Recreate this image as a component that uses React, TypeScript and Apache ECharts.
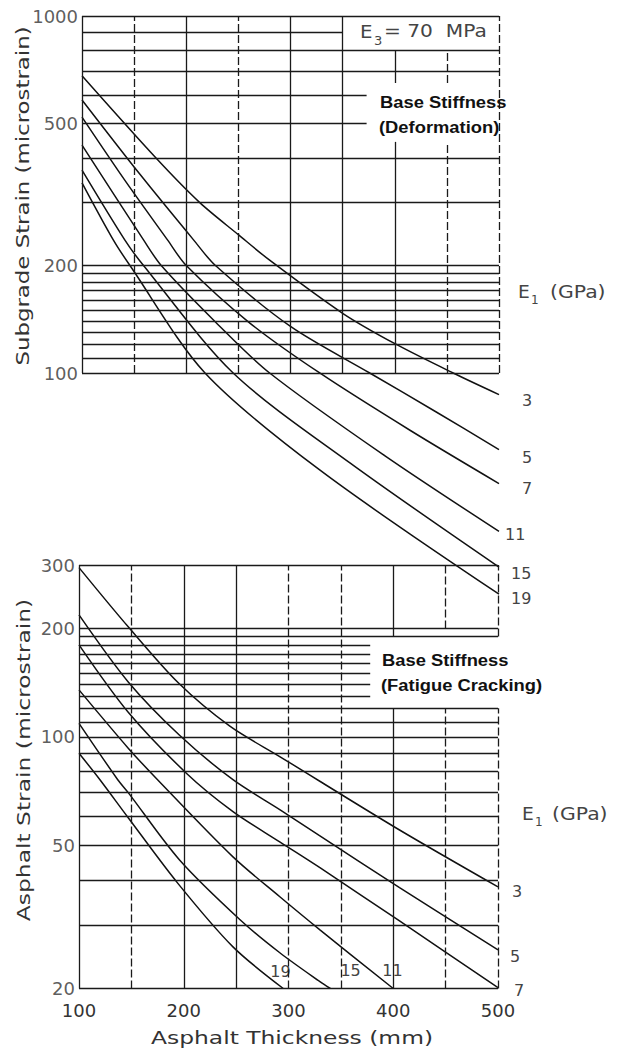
import React, { useEffect, useRef } from 'react';
import * as echarts from 'echarts';

// ---------- data ----------
const E1_LEVELS = ['3', '5', '7', '11', '15', '19'];

// Top: subgrade strain (microstrain) vs asphalt thickness (mm)
const subgrade3 = [[100, 680], [171, 400], [213, 300], [250, 244], [280, 207], [350, 147], [402, 120], [456, 100], [500, 87]];
const subgrade5 = [[100, 582], [156, 359], [207, 236], [228, 200], [300, 135], [376, 100], [439, 78], [500, 61]];
const subgrade7 = [[100, 521], [141, 347], [182, 236], [200, 200], [261, 138], [328, 100], [415, 69], [500, 49]];
const subgrade11 = [[100, 435], [159, 236], [176, 200], [228, 139], [280, 100], [391, 58.5], [500, 36]];
const subgrade15 = [[100, 370], [141, 236], [159, 200], [245, 100], [357, 56], [500, 28.6]];
const subgrade19 = [[100, 341], [130, 236], [146, 200], [218, 100], [328, 53.5], [500, 24]];

// Bottom: asphalt strain (microstrain) vs asphalt thickness (mm)
const asphalt3 = [[100, 295], [147, 202], [195, 141], [244, 107], [292, 88], [402, 56], [500, 38.3]];
const asphalt5 = [[100, 218], [147, 142], [196, 101], [247, 76], [292, 62.7], [330, 53.1], [406, 38.1], [500, 25.6]];
const asphalt7 = [[100, 180], [147, 117], [203, 79], [247, 62], [292, 51], [330, 43.3], [406, 30.8], [500, 20.1]];
const asphalt11 = [[100, 135], [147, 93], [175, 76], [247, 46.4], [292, 35.9], [330, 29.1], [400, 20]];
const asphalt15 = [[100, 109], [137, 76], [147, 70], [196, 45.5], [254, 31], [292, 25.1], [330, 20.9], [340, 20]];
const asphalt19 = [[100, 90], [120, 76], [147, 59.6], [194, 39.3], [247, 26.1], [295, 20]];

// tick labels
const thicknessTicks = [100, 200, 300, 400, 500];
const subgradeTickLabels = [1000, 500, 200, 100];
const asphaltTickLabels = [300, 200, 100, 50, 20];

// chart-paper grid lines
const subgradeGridFull = [1000, 800, 700, 400, 300, 200, 190, 180, 170, 160, 150, 140, 130, 120, 110, 100];
const subgradeGridShort = [600, 500];
const asphaltGridFull = [300, 200, 190, 120, 110, 100, 90, 80, 70, 60, 50, 40, 30, 20];
const asphaltGridShort = [180, 170, 160, 150, 140, 130];

const FONT = 'DejaVu Sans';
const BOLD = 'Liberation Sans';
const INK = '#1a1a1a';

const hseg = (v: number, x1: number, x2: number) => [{ coord: [x1, v] }, { coord: [x2, v] }];
const vseg = (x: number, y1: number, y2: number) => [{ coord: [x, y1] }, { coord: [x, y2] }];

function gridSeries(name: string, axis: number, lines: any[], dashed: boolean) {
  return {
    name,
    type: 'line',
    xAxisIndex: axis,
    yAxisIndex: axis,
    data: [],
    silent: true,
    z: 1,
    markLine: {
      silent: true,
      symbol: ['none', 'none'],
      label: { show: false },
      emphasis: { disabled: true },
      lineStyle: { color: INK, width: 1.3, type: dashed ? [8, 3] : 'solid' },
      data: lines,
    },
  };
}

function curve(name: string, axis: number, data: number[][], offset: number[]) {
  return {
    name,
    type: 'line',
    xAxisIndex: axis,
    yAxisIndex: axis,
    data,
    showSymbol: false,
    smooth: 0.3,
    z: 3,
    silent: true,
    lineStyle: { color: '#111', width: 1.5 },
    endLabel: {
      show: true,
      formatter: '{a}',
      distance: 0,
      offset,
      align: 'left',
      verticalAlign: 'middle',
      color: '#444',
      fontSize: 16,
      fontFamily: FONT,
    },
  };
}

function tickLabelSeries(axis: number, values: number[], xAt: number) {
  return {
    type: 'scatter',
    xAxisIndex: axis,
    yAxisIndex: axis,
    data: values.map((v) => [xAt, v]),
    symbolSize: 2,
    silent: true,
    itemStyle: { color: 'rgba(0,0,0,0)' },
    label: {
      show: true,
      position: 'left',
      distance: 3,
      formatter: (p: any) => String(p.value[1]),
      fontSize: 18,
      fontFamily: FONT,
      color: '#333',
    },
    z: 4,
  };
}

function txt(text: string, x: number, y: number, opts: any = {}) {
  const { rotation = 0, scaleX = 1, fontSize = 18, fontFamily = FONT, fontWeight = 'normal', fill = '#333', align = 'left' } = opts;
  return {
    type: 'text', x, y, rotation, scaleX, z: 10, silent: true,
    style: { text, fontSize, fontFamily, fontWeight, fill, align, verticalAlign: 'middle' },
  };
}

export default function App() {
  const ref = useRef<HTMLDivElement>(null);

  useEffect(() => {
    if (!ref.current) return;
    const chart = echarts.init(ref.current, undefined, { renderer: 'svg' });

    const topSolid = [
      ...subgradeGridFull.map((v) => hseg(v, 100, 500)),
      hseg(900, 100, 350),
      ...subgradeGridShort.map((v) => hseg(v, 100, 373)),
      ...[100, 200, 300, 350].map((x) => vseg(x, 100, 1000)),
      vseg(400, 100, 444),
      vseg(400, 649, 800),
    ];
    const topDashed = [
      ...[150, 250].map((x) => vseg(x, 100, 1000)),
      vseg(450, 100, 444),
      vseg(450, 649, 800),
      vseg(500, 100, 1000),
    ];
    const bottomSolid = [
      ...asphaltGridFull.map((v) => hseg(v, 100, 500)),
      ...asphaltGridShort.map((v) => hseg(v, 100, 378)),
      ...[100, 200, 250].map((x) => vseg(x, 20, 300)),
      vseg(400, 20, 120),
      vseg(400, 190, 300),
    ];
    const bottomDashed = [
      ...[150, 300, 350].map((x) => vseg(x, 20, 300)),
      vseg(450, 20, 120),
      vseg(450, 200, 300),
      vseg(500, 20, 120),
      vseg(500, 190, 300),
    ];

    const topCurves = [subgrade3, subgrade5, subgrade7, subgrade11, subgrade15, subgrade19];
    const topOffsets = [[23, 6], [23, 8], [23, 5], [6, 3], [12, 6], [12, 4]];
    const botCurves = [asphalt3, asphalt5, asphalt7, asphalt11, asphalt15, asphalt19];
    const botOffsets = [[14, 5], [12, 7], [16, 3], [-11, -18], [10, -18], [-13, -17]];

    const hiddenX = (i: number) => ({
      type: 'value', gridIndex: i, min: 100, max: 500, interval: 100, show: false,
      splitLine: { show: false },
    });

    const option: any = {
      animation: false,
      backgroundColor: '#ffffff',
      grid: [
        { left: 82, top: 16, width: 417, height: 357 },
        { left: 82, top: 16, width: 417, height: 606.5 },
        { left: 79, top: 565, width: 419, height: 423.5 },
      ],
      xAxis: [
        hiddenX(0),
        hiddenX(1),
        {
          type: 'value', gridIndex: 2, min: thicknessTicks[0], max: thicknessTicks[thicknessTicks.length - 1],
          interval: 100,
          axisLine: { show: false }, axisTick: { show: false }, splitLine: { show: false },
          axisLabel: { show: true, margin: 13, fontSize: 18, color: '#333', fontFamily: FONT },
        },
      ],
      yAxis: [
        { type: 'log', logBase: 10, gridIndex: 0, min: 100, max: 1000, show: false, splitLine: { show: false } },
        { type: 'log', logBase: 10, gridIndex: 1, min: 20, max: 1000, show: false, splitLine: { show: false } },
        { type: 'log', logBase: 10, gridIndex: 2, min: 20, max: 300, show: false, splitLine: { show: false } },
      ],
      series: [
        gridSeries('topSolid', 0, topSolid, false),
        gridSeries('topDashed', 0, topDashed, true),
        gridSeries('bottomSolid', 2, bottomSolid, false),
        gridSeries('bottomDashed', 2, bottomDashed, true),
        tickLabelSeries(0, subgradeTickLabels, 100),
        tickLabelSeries(2, asphaltTickLabels, 100),
        ...topCurves.map((d, i) => curve(E1_LEVELS[i], 1, d, topOffsets[i])),
        ...botCurves.map((d, i) => curve(E1_LEVELS[i], 2, d, botOffsets[i])),
      ],
      graphic: {
        elements: [
          // axis titles
          txt('Subgrade Strain (microstrain)', 23, 196, { rotation: Math.PI / 2, scaleX: 1.27, align: 'center' }),
          txt('Asphalt Strain (microstrain)', 24, 760, { rotation: Math.PI / 2, scaleX: 1.3, align: 'center' }),
          txt('Asphalt Thickness (mm)', 292, 1038, { scaleX: 1.3, align: 'center' }),
          // E3 box text
          txt('E', 360, 31, { fill: '#444', scaleX: 1.1 }),
          txt('3', 374, 40, { fontSize: 13, fill: '#444' }),
          txt('= 70  MPa', 384, 31, { fill: '#444', scaleX: 1.12 }),
          // base stiffness labels
          txt('Base Stiffness', 380, 102, { fontSize: 17, fontFamily: BOLD, fontWeight: 'bold', fill: '#111', scaleX: 1.08 }),
          txt('(Deformation)', 379, 127, { fontSize: 17, fontFamily: BOLD, fontWeight: 'bold', fill: '#111', scaleX: 1.08 }),
          txt('Base Stiffness', 382, 660, { fontSize: 17, fontFamily: BOLD, fontWeight: 'bold', fill: '#111', scaleX: 1.08 }),
          txt('(Fatigue Cracking)', 381, 685, { fontSize: 17, fontFamily: BOLD, fontWeight: 'bold', fill: '#111', scaleX: 1.08 }),
          // E1 (GPa) legends
          txt('E', 518, 292, { fontSize: 17, fill: '#444', scaleX: 1.1 }),
          txt('1', 531, 300, { fontSize: 12, fill: '#444' }),
          txt('(GPa)', 550, 292, { fontSize: 17, fill: '#444', scaleX: 1.2 }),
          txt('E', 522, 814, { fontSize: 17, fill: '#444', scaleX: 1.1 }),
          txt('1', 535, 822, { fontSize: 12, fill: '#444' }),
          txt('(GPa)', 552, 814, { fontSize: 17, fill: '#444', scaleX: 1.2 }),
        ],
      },
    };

    chart.setOption(option);
    return () => chart.dispose();
  }, []);

  return (
    <div
      ref={ref}
      style={{ position: 'absolute', left: 0, top: 0, width: 629, height: 1053, background: '#fff' }}
    />
  );
}
